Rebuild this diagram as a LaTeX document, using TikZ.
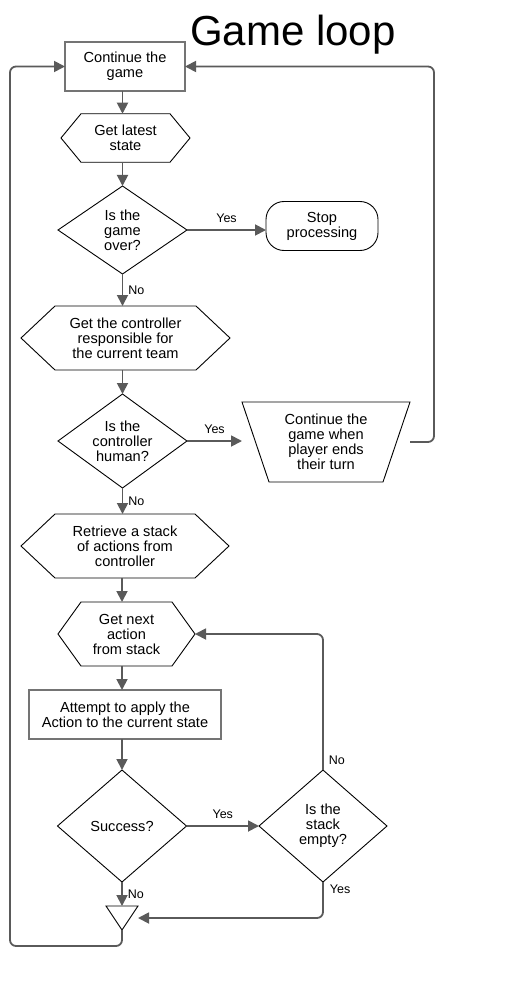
\documentclass[tikz,border=0pt]{standalone}
\usepackage{fontspec}
\setmainfont{Liberation Sans}
\usetikzlibrary{arrows.meta}

\definecolor{linegray}{HTML}{5A5A5A}
\definecolor{boxgray}{HTML}{747474}

\tikzset{
  txt/.style={align=center, font=\fontsize{14.6}{15}\selectfont, inner sep=0pt, outer sep=0pt},
  procbox/.style={txt, draw=boxgray, line width=1.8pt, minimum height=49pt},
  lbl/.style={font=\fontsize{12.5}{13}\selectfont, inner sep=1pt},
  outline/.style={draw=black, line width=0.9pt},
  flow/.style={draw=linegray, line width=1.8pt,
    -{Triangle[length=11pt,width=11pt]}},
  loopflow/.style={flow, rounded corners=6pt}
}

\newcommand{\hexframe}[2]{%
  \draw[outline] (#1.west) -- ([xshift=#2]#1.north west) -- ([xshift=-#2]#1.north east)
    -- (#1.east) -- ([xshift=-#2]#1.south east) -- ([xshift=#2]#1.south west) -- cycle;}
\newcommand{\diamframe}[1]{%
  \draw[outline] (#1.north) -- (#1.east) -- (#1.south) -- (#1.west) -- cycle;}
\newcommand{\trapframe}[2]{%
  \draw[outline] (#1.north west) -- (#1.north east) -- ([xshift=-#2]#1.south east)
    -- ([xshift=#2]#1.south west) -- cycle;}
\newcommand{\mergeframe}[1]{%
  \draw[outline] (#1.north west) -- (#1.north east) -- (#1.south) -- cycle;}

\begin{document}
\begin{tikzpicture}[x=1pt,y=-1pt]
	\useasboundingbox (0,0) rectangle (522,987);
	\node[font=\fontsize{42}{44}\selectfont, inner sep=0pt] (title) at (293,35) {Game loop};

	\node[procbox, minimum width=120pt] (cont) at (125,66.5) {Continue the\\game};
	\node[txt, minimum width=129pt, minimum height=48.5pt] (latest) at (125.5,138) {Get latest\\state};
	\node[txt, minimum width=129pt, minimum height=88pt] (over) at (122.5,230) {Is the\\game\\over?};
	\node[txt, draw=black, line width=0.9pt, rounded corners=18pt, minimum width=112pt, minimum height=49pt] (stop) at (322,226) {Stop\\processing};
	\node[txt, minimum width=209pt, minimum height=64pt] (ctrl) at (125.5,338) {Get the controller\\responsible for\\the current team};
	\node[txt, minimum width=129pt, minimum height=94pt] (human) at (122.5,441) {Is the\\controller\\human?};
	\node[txt, minimum width=168pt, minimum height=80pt] (wait) at (326,442) {Continue the\\game when\\player ends\\their turn};
	\node[txt, minimum width=208pt, minimum height=64pt] (retrieve) at (125,546) {Retrieve a stack\\of actions from\\controller};
	\node[txt, minimum width=137pt, minimum height=64pt] (next) at (126.5,634) {Get next\\action\\from stack};
	\node[procbox, minimum width=192pt] (attempt) at (125,714.5) {Attempt to apply the\\Action to the current state};
	\node[txt, minimum width=129pt, minimum height=112pt] (success) at (122,826) {Success?};
	\node[txt, minimum width=128pt, minimum height=112pt] (empty) at (323,826) {Is the\\stack\\empty?};
	\node[txt, minimum width=32pt, minimum height=24pt] (merge) at (122,918) {};
	\coordinate (rail) at (10,946);

	\hexframe{latest}{20pt}
	\hexframe{ctrl}{34pt}
	\hexframe{retrieve}{34pt}
	\hexframe{next}{23pt}
	\diamframe{over}
	\diamframe{human}
	\diamframe{success}
	\diamframe{empty}
	\trapframe{wait}{27pt}
	\mergeframe{merge}

	\draw[flow] (cont.south -| over.north) -- (latest.north -| over.north);
	\draw[flow] (latest.south -| over.north) -- (over.north);
	\draw[flow] (over.east) -- node[lbl, above=5pt] {Yes} (over.east -| stop.west);
	\draw[flow] (over.south) -- node[lbl, right=4pt] {No} (ctrl.north -| over.south);
	\draw[flow] (ctrl.south -| human.north) -- (human.north);
	\draw[flow] (human.east) -- node[lbl, above=5pt] {Yes} (human.east -| wait.west);
	\draw[loopflow] (wait.east) -- ++(24,0) |- (cont.east);
	\draw[flow] (human.south) -- node[lbl, right=4pt] {No} (retrieve.north -| human.south);
	\draw[flow] (retrieve.south -| success.north) -- (next.north -| success.north);
	\draw[flow] (next.south -| success.north) -- (attempt.north -| success.north);
	\draw[flow] (attempt.south -| success.north) -- (success.north);
	\draw[flow] (success.east) -- node[lbl, above=5pt] {Yes} (empty.west);
	\draw[loopflow] (empty.north) node[lbl, anchor=south west, xshift=4pt, yshift=3pt] {No} |- (next.east);
	\draw[loopflow] (empty.south) node[lbl, anchor=north west, xshift=5pt, yshift=-1pt] {Yes} |- (merge.east);
	\draw[flow] (success.south) -- node[lbl, right=4pt] {No} (merge.north);
	\draw[loopflow] (merge.south) |- (rail) |- (cont.west);
\end{tikzpicture}
\end{document}
